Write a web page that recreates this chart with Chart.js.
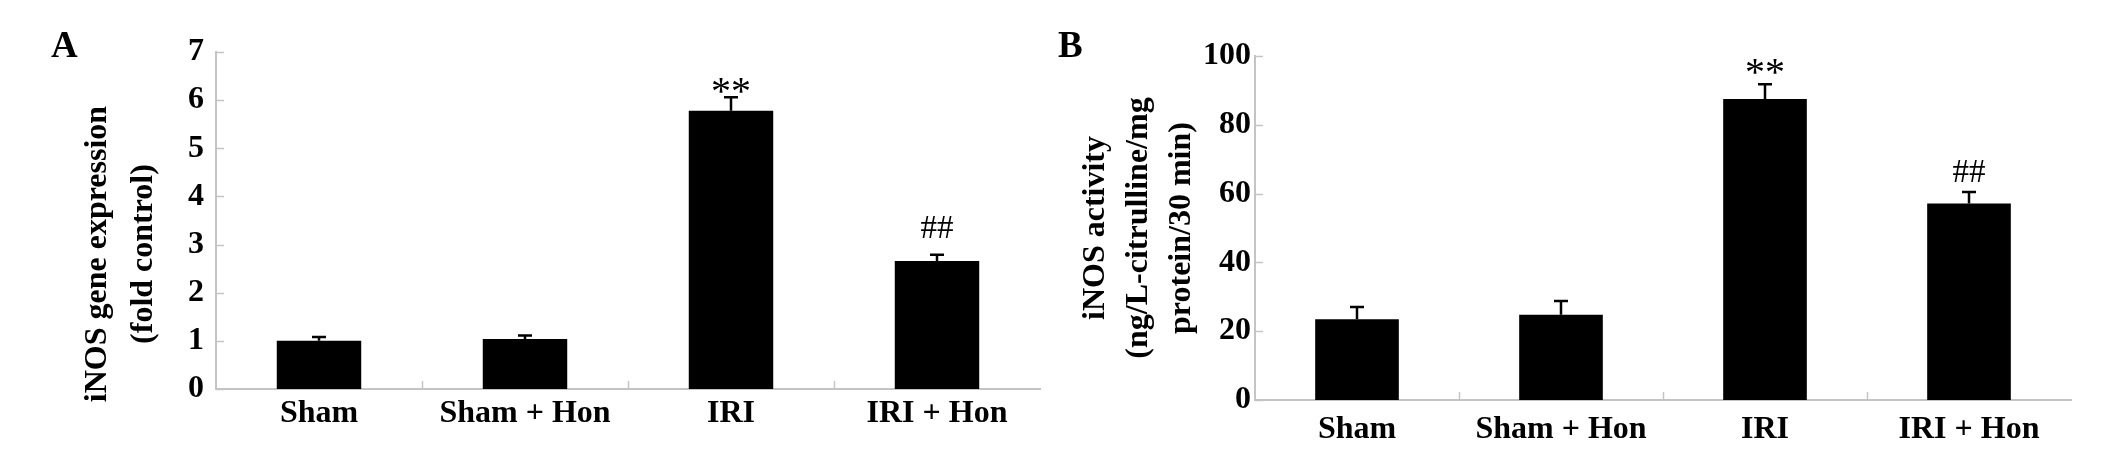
<!DOCTYPE html>
<html><head><meta charset="utf-8">
<script src="https://cdn.jsdelivr.net/npm/chart.js@4.4.0/dist/chart.umd.min.js"></script>
<style>
html,body{margin:0;padding:0;background:#fff;width:2126px;height:450px;overflow:hidden;}
#wrapA{position:absolute;left:0;top:0;width:1050px;height:450px;}
#wrapB{position:absolute;left:1050px;top:0;width:1076px;height:450px;}
canvas{display:block;}
</style></head><body>
<div id="wrapA"><canvas id="cA" width="1050" height="450"></canvas></div>
<div id="wrapB"><canvas id="cB" width="1076" height="450"></canvas></div>
<script>
// ---- data ----
const categories = ["Sham", "Sham + Hon", "IRI", "IRI + Hon"];
const geneExpression = [1.00, 1.04, 5.78, 2.66];
const geneExpressionErr = [0.08, 0.07, 0.28, 0.13];
const geneTicks = [0, 1, 2, 3, 4, 5, 6, 7];
const activity = [23.5, 24.8, 87.5, 57.1];
const activityErr = [3.5, 4.0, 4.3, 3.4];
const activityTicks = [0, 20, 40, 60, 80, 100];
const significance = ["", "", "**", "##"];
const titleA = ["iNOS gene expression", "(fold control)"];
const titleB = ["iNOS activity", "(ng/L-citrulline/mg", "protein/30 min)"];

const SERIF = '"Liberation Serif", "Times New Roman", serif';
const AXIS = '#c4c4c4';

const extras = {
  id: 'extras',
  afterDraw(chart, args, o) {
    const ctx = chart.ctx;
    const xs = chart.scales.x, ys = chart.scales.y;
    const a = chart.chartArea;
    ctx.save();
    // inward ticks
    ctx.strokeStyle = AXIS; ctx.lineWidth = 1.5;
    ys.ticks.forEach(t => {
      const py = Math.round(ys.getPixelForValue(t.value)) + 0.5;
      ctx.beginPath(); ctx.moveTo(a.left, py); ctx.lineTo(a.left + o.tickLen, py); ctx.stroke();
    });
    for (let i = 1; i < categories.length; i++) {
      const px = Math.round((xs.getPixelForValue(i - 1) + xs.getPixelForValue(i)) / 2) + 0.5;
      ctx.beginPath(); ctx.moveTo(px, a.bottom); ctx.lineTo(px, a.bottom - o.tickLen); ctx.stroke();
    }
    // error bars + significance marks
    const ds = chart.data.datasets[0];
    const meta = chart.getDatasetMeta(0);
    ctx.strokeStyle = '#000'; ctx.lineWidth = 2.5;
    meta.data.forEach((bar, i) => {
      const cx = bar.x;
      const top = ys.getPixelForValue(ds.data[i]);
      const et = ys.getPixelForValue(ds.data[i] + o.errors[i]);
      ctx.beginPath(); ctx.moveTo(cx, top); ctx.lineTo(cx, et);
      ctx.moveTo(cx - o.cap, et); ctx.lineTo(cx + o.cap, et); ctx.stroke();
      if (significance[i]) {
        ctx.fillStyle = '#000';
        ctx.font = 'normal ' + o.markSize[i] + 'px ' + SERIF;
        ctx.textAlign = 'center'; ctx.textBaseline = 'alphabetic';
        ctx.fillText(significance[i], cx, et + o.markOffset[i]);
      }
    });
    // rotated y-axis title
    ctx.fillStyle = '#000';
    ctx.font = 'bold 32px ' + SERIF;
    ctx.textAlign = 'center'; ctx.textBaseline = 'alphabetic';
    o.title.forEach((line, k) => {
      ctx.save();
      ctx.translate(o.titleX[k], o.titleY);
      ctx.rotate(-Math.PI / 2);
      ctx.fillText(line, 0, 0);
      ctx.restore();
    });
    // panel letter
    ctx.font = 'bold 37px ' + SERIF;
    ctx.textAlign = 'left';
    ctx.fillText(o.letter, o.letterX, o.letterY);
    ctx.restore();
  }
};

function makePanel(id, values, errs, ticks, opt) {
  new Chart(document.getElementById(id), {
    type: 'bar',
    data: {
      labels: categories,
      datasets: [{ data: values, backgroundColor: '#000', borderWidth: 0,
        categoryPercentage: 1.0, barPercentage: opt.barPct }]
    },
    options: {
      responsive: false, animation: false,
      layout: { padding: { left: 0, right: opt.padRight, top: opt.padTop, bottom: 0 } },
      plugins: {
        legend: { display: false }, tooltip: { enabled: false },
        extras: { errors: errs, cap: 7, tickLen: 8, markOffset: opt.markOffset, markSize: [0, 0, 40, 33],
          title: opt.title, titleX: opt.titleX, titleY: opt.titleY,
          letter: opt.letter, letterX: opt.letterX, letterY: opt.letterY }
      },
      scales: {
        x: {
          offset: true,
          grid: { display: false, drawTicks: false },
          border: { display: true, color: AXIS, width: 2 },
          ticks: { color: '#000', padding: opt.xPad, font: { family: SERIF, weight: 'bold', size: 32 } },
          afterFit(s) { s.height = opt.xHeight; }
        },
        y: {
          min: ticks[0], max: ticks[ticks.length - 1],
          afterBuildTicks(s) { s.ticks = ticks.map(v => ({ value: v })); },
          grid: { display: false, drawTicks: false },
          border: { display: true, color: AXIS, width: 2 },
          ticks: { color: '#000', padding: opt.yPad, font: { family: SERIF, weight: 'bold', size: 32 } },
          afterFit(s) { s.width = opt.yWidth; }
        }
      }
    },
    plugins: [extras]
  });
}

makePanel('cA', geneExpression, geneExpressionErr, geneTicks, {
  barPct: 0.41, padRight: 10, padTop: 52, xHeight: 61, yWidth: 216, xPad: 6, yPad: 12,
  markOffset: [0, 0, 7, -17],
  title: titleA, titleX: [106, 152], titleY: 254,
  letter: 'A', letterX: 51, letterY: 57
});
makePanel('cB', activity, activityErr, activityTicks, {
  barPct: 0.41, padRight: 55, padTop: 56, xHeight: 50, yWidth: 205, xPad: 11, yPad: 4,
  markOffset: [0, 0, 1, -10],
  title: titleB, titleX: [54, 97, 140], titleY: 228,
  letter: 'B', letterX: 8, letterY: 57
});
</script>
</body></html>
